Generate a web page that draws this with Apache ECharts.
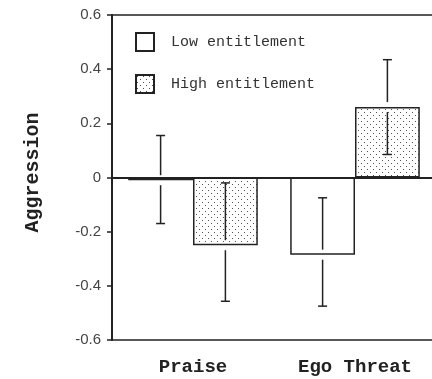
<!DOCTYPE html>
<html>
<head>
<meta charset="utf-8">
<script src="https://cdn.jsdelivr.net/npm/echarts@6/dist/echarts.min.js"></script>
<style>
  html, body { margin: 0; padding: 0; background: #fff; }
  #chart { width: 432px; height: 379px; }
</style>
</head>
<body>
<div id="chart"></div>
<script>
// data
const categories = ['Praise', 'Ego Threat'];
const seriesNames = ['Low entitlement', 'High entitlement'];
const lowMeans = [-0.01, -0.285];
const highMeans = [-0.25, 0.26];
// error bar ends (upper / lower)
const lowUpper = [0.155, -0.075];
const lowLower = [-0.17, -0.475];
const highUpper = [-0.02, 0.435];
const highLower = [-0.457, 0.085];
const yTicks = { min: -0.6, max: 0.6, step: 0.2 };

// dotted fill for the high group
const dots = document.createElement('canvas');
dots.width = 6;
dots.height = 6;
const ctx = dots.getContext('2d');
ctx.fillStyle = '#fff';
ctx.fillRect(0, 0, 6, 6);
ctx.fillStyle = '#555';
ctx.fillRect(1, 1, 1, 1);
ctx.fillRect(4, 4, 1, 1);
const dotFill = { image: dots, repeat: 'repeat' };

const ink = '#222';
const barPct = 0.4;

const errData = [];
categories.forEach((c, i) => {
  errData.push([i, lowMeans[i], lowLower[i], lowUpper[i], -1]);
  errData.push([i, highMeans[i], highLower[i], highUpper[i], 1]);
});

const renderErr = (params, api) => {
  const idx = api.value(0);
  const side = api.value(4);
  const band = api.size([1, 0])[0];
  const mid = api.coord([idx, api.value(1)]);
  const x = mid[0] + side * band * barPct / 2;
  const yLo = api.coord([idx, api.value(2)])[1];
  const yHi = api.coord([idx, api.value(3)])[1];
  const yMean = mid[1];
  const gap = 5;
  const cap = 4.5;
  const style = { stroke: ink, lineWidth: 1.5 };
  return {
    type: 'group',
    children: [
      { type: 'line', shape: { x1: x, y1: yHi, x2: x, y2: yMean - gap }, style },
      { type: 'line', shape: { x1: x, y1: yMean + gap, x2: x, y2: yLo }, style },
      { type: 'line', shape: { x1: x - cap, y1: yHi, x2: x + cap, y2: yHi }, style },
      { type: 'line', shape: { x1: x - cap, y1: yLo, x2: x + cap, y2: yLo }, style }
    ]
  };
};

const chart = echarts.init(document.getElementById('chart'));
const option = {
  animation: false,
  grid: {
    left: 112,
    top: 15,
    right: -4,
    bottom: 39,
    outerBoundsMode: 'none',
    show: true,
    borderColor: ink,
    borderWidth: 1.5,
    backgroundColor: 'transparent'
  },
  legend: {
    data: seriesNames,
    orient: 'vertical',
    left: 135,
    top: 32,
    padding: 0,
    itemWidth: 18,
    itemHeight: 18,
    itemGap: 22,
    icon: 'rect',
    textStyle: {
      fontFamily: 'Liberation Mono',
      fontSize: 15,
      lineHeight: 18,
      color: '#333',
      padding: [0, 0, 0, 12]
    }
  },
  xAxis: {
    type: 'category',
    data: categories,
    axisLine: { lineStyle: { color: ink, width: 2 } },
    axisTick: { alignWithLabel: true, length: 5, lineStyle: { color: ink, width: 1.5 } },
    axisLabel: {
      margin: 18,
      fontFamily: 'Liberation Mono',
      fontWeight: 'bold',
      fontSize: 19,
      color: ink
    }
  },
  yAxis: {
    type: 'value',
    min: yTicks.min,
    max: yTicks.max,
    interval: yTicks.step,
    name: 'Aggression',
    nameLocation: 'middle',
    nameGap: 69,
    nameTextStyle: {
      fontFamily: 'Liberation Mono',
      fontWeight: 'bold',
      fontSize: 20,
      color: ink,
      padding: [0, 0, 0, 10]
    },
    axisLine: { show: true, lineStyle: { color: ink, width: 2 } },
    axisTick: { show: true, length: 5, lineStyle: { color: ink, width: 1.5 } },
    splitLine: { show: false },
    axisLabel: {
      margin: 11,
      fontFamily: 'Liberation Sans',
      fontSize: 15,
      color: '#444'
    }
  },
  series: [
    {
      name: seriesNames[0],
      type: 'bar',
      data: lowMeans,
      barWidth: (barPct * 100) + '%',
      barGap: 0,
      itemStyle: { color: '#fff', borderColor: ink, borderWidth: 1.5 },
      markLine: {
        silent: true,
        symbol: 'none',
        label: { show: false },
        lineStyle: { color: ink, type: 'solid', width: 1.5 },
        data: [{ yAxis: 0 }]
      }
    },
    {
      name: seriesNames[1],
      type: 'bar',
      data: highMeans,
      barWidth: (barPct * 100) + '%',
      barGap: 0,
      itemStyle: { color: dotFill, borderColor: ink, borderWidth: 1.5 }
    },
    {
      type: 'custom',
      renderItem: renderErr,
      data: errData,
      encode: { x: 0, y: [1, 2, 3] },
      z: 10,
      silent: true
    }
  ]
};
chart.setOption(option);
</script>
</body>
</html>
